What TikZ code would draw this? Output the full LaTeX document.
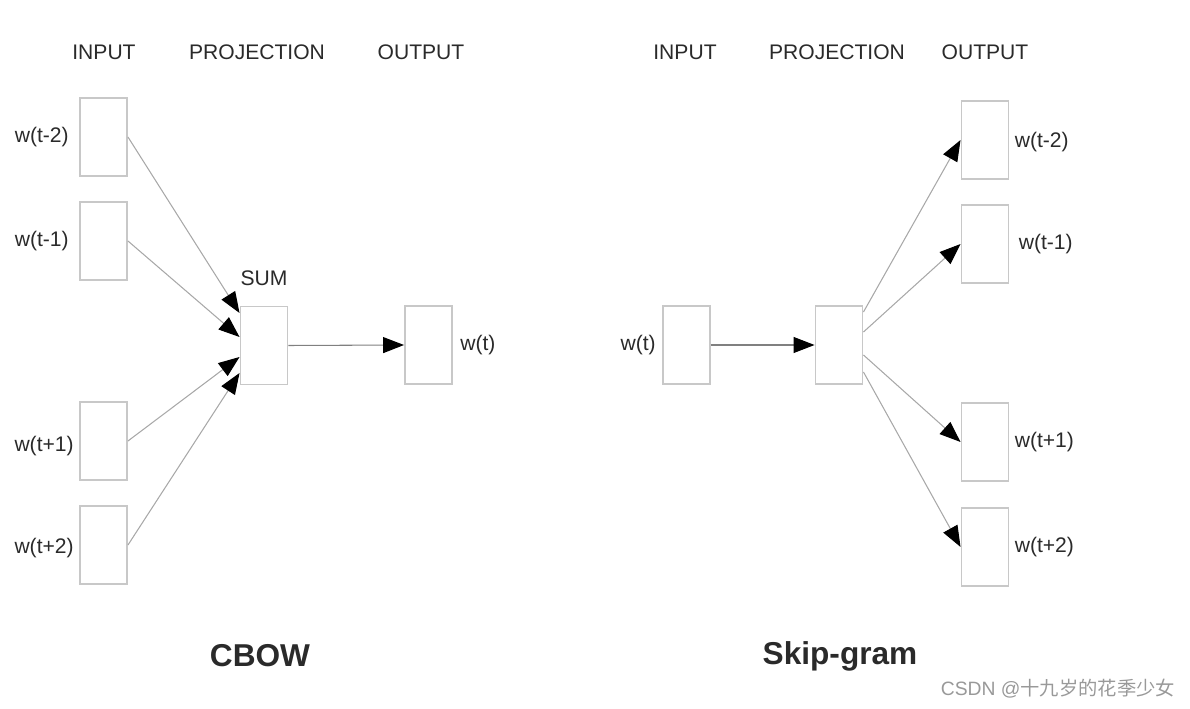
\documentclass[tikz,border=0pt]{standalone}
\usepackage{fontspec}
\setmainfont{Liberation Sans}
\newfontfamily\cjk{Noto Sans CJK SC}
\usepackage{xcolor}
\usetikzlibrary{positioning, arrows.meta}

\definecolor{boxgray}{HTML}{C8C8C8}
\definecolor{linegray}{HTML}{A8A8A8}
\definecolor{txtgray}{HTML}{2A2A2A}

\tikzset{
	wbox/.style={draw=boxgray, line width=1.1pt, minimum width=0.94cm, minimum height=1.56cm, inner sep=0pt},
	lbl/.style={inner sep=0pt, text=txtgray, font=\fontsize{12}{14}\selectfont},
	head/.style={text=txtgray, font=\fontsize{12}{14}\selectfont},
	title/.style={text=txtgray, font=\fontsize{18}{20}\selectfont\bfseries},
	conn/.style={draw=linegray, line width=0.6pt, -{Triangle[length=0.42cm,width=0.32cm,color=black]}},
	hconn/.style={conn, draw=gray}
}

\begin{document}
\begin{tikzpicture}[x=0.02cm, y=-0.02cm]
		\useasboundingbox (0,0) rectangle (1190,709);
		
		% CBOW
		\node[head] (h0) at (104,52) {INPUT};
		\node[head] (h1) at (257,52) {PROJECTION};
		\node[head] (h2) at (421,52) {OUTPUT};
		
		\node[wbox] (i0) at (103.5,137) {};
		\node[wbox] (i1) at (103.5,241) {};
		\node[wbox] (i2) at (103.5,441) {};
		\node[wbox] (i3) at (103.5,545) {};
		\node[wbox] (s) at (264,345.5) {};
		\node[wbox] (o) at (428.5,345) {};
		
		\node[lbl, left=0.2cm of i0] (l0) {w(t-2)};
		\node[lbl, left=0.2cm of i1] (l1) {w(t-1)};
		\node[lbl, left=0.1cm of i2, yshift=-0.1cm] (l2) {w(t+1)};
		\node[lbl, left=0.1cm of i3, yshift=-0.06cm] (l3) {w(t+2)};
		\node[lbl, right=0.14cm of o] (lo) {w(t)};
		\node[head, above=0.28cm of s] (sum) {SUM};
		
		\draw (i0.east) edge[conn] ([yshift=0.65cm]s.west) ;
		\draw (i1.east) edge[conn] ([yshift=0.17cm]s.west) ;
		\draw (i2.east) edge[conn] ([yshift=-0.23cm]s.west) ;
		\draw (i3.east) edge[conn] ([yshift=-0.55cm]s.west) ;
		\draw (s.east) edge[hconn] (o.west) ;
		
		\node[title] (t0) at (260,656) {CBOW};
		
		% Skip-gram
		\node[head] (h3) at (685,52) {INPUT};
		\node[head] (h4) at (837,52) {PROJECTION};
		\node[head] (h5) at (985,52) {OUTPUT};
		
		\node[wbox] (x) at (686.5,345) {};
		\node[wbox] (p) at (839,345) {};
		\node[wbox] (y0) at (985,140) {};
		\node[wbox] (y1) at (985,244) {};
		\node[wbox] (y2) at (985,442) {};
		\node[wbox] (y3) at (985,547) {};
		
		\node[lbl, left=0.12cm of x] (lx) {w(t)};
		\node[lbl, right=0.1cm of y0, yshift=-0.05cm] (m0) {w(t-2)};
		\node[lbl, right=0.18cm of y1] (m1) {w(t-1)};
		\node[lbl, right=0.1cm of y2] (m2) {w(t+1)};
		\node[lbl, right=0.1cm of y3] (m3) {w(t+2)};
		
		\draw (x.east) edge[hconn] (p.west) ;
		\draw ([yshift=0.66cm]p.east) edge[conn] (y0.west) ;
		\draw ([yshift=0.26cm]p.east) edge[conn] (y1.west) ;
		\draw ([yshift=-0.2cm]p.east) edge[conn] (y2.west) ;
		\draw ([yshift=-0.54cm]p.east) edge[conn] (y3.west) ;
		
		\node[title] (t1) at (840,656) {Skip-gram};
		
		\node[text=gray!80, font=\fontsize{11}{13}\selectfont] (wm) at (1058,689) {CSDN @{\cjk 十九岁的花季少女}};
	\end{tikzpicture}
\end{document}
